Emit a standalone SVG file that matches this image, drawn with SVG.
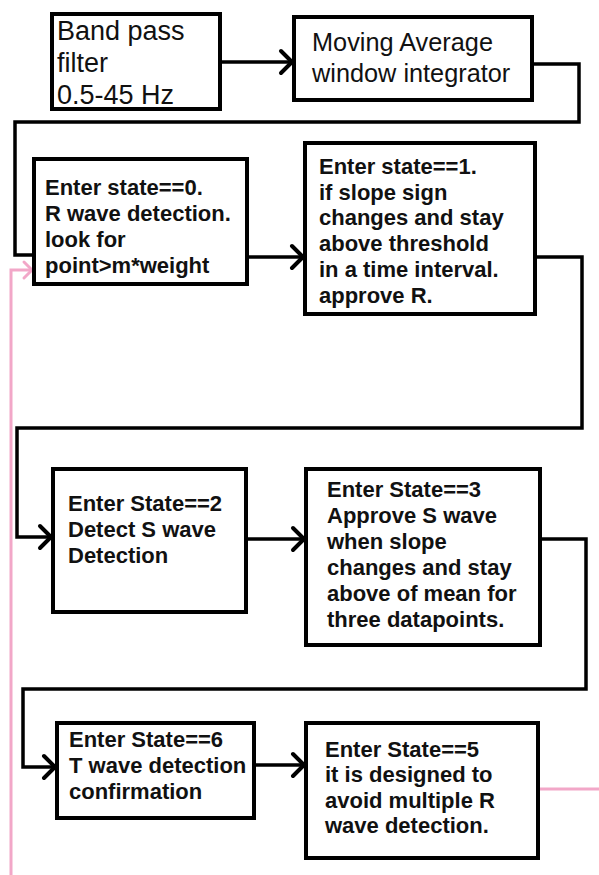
<svg xmlns="http://www.w3.org/2000/svg" width="599" height="875" viewBox="0 0 599 875">
  <style>
    .box { fill: #ffffff; stroke: #000000; stroke-width: 4; }
    .reg { font-family: "Liberation Sans", Arial, sans-serif; fill: #111111; }
    .bold { font-family: "Liberation Sans", Arial, sans-serif; font-weight: bold; font-size: 22px; fill: #111111; }
    .wire { fill: none; stroke: #000000; stroke-width: 3.5; stroke-linejoin: miter; }
    .pink { fill: none; stroke: #f2a7c8; stroke-width: 3; }
  </style>
  <defs>
    <marker id="ah" viewBox="0 0 16 24" markerWidth="16" markerHeight="24" refX="13" refY="12" orient="auto" markerUnits="userSpaceOnUse" overflow="visible">
      <path d="M2,1 L13,12 L2,23" fill="none" stroke="#000000" stroke-width="4" stroke-linecap="round" stroke-linejoin="round"/>
    </marker>
    <marker id="ahp" viewBox="0 0 12 20" markerWidth="12" markerHeight="20" refX="10" refY="10" orient="auto" markerUnits="userSpaceOnUse" overflow="visible">
      <path d="M2,2 L10,10 L2,18" fill="none" stroke="#f2a7c8" stroke-width="3" stroke-linecap="round" stroke-linejoin="round"/>
    </marker>
  </defs>
  <rect width="599" height="875" fill="#ffffff"/>

  <g id="connectors">
    <path class="wire" d="M220,62 H292" marker-end="url(#ah)"/>
    <path class="wire" d="M532,64 H579 V122 H15 V255 H34"/>
    <path class="wire" d="M247,257 H303" marker-end="url(#ah)"/>
    <path class="wire" d="M535,257 H582 V428 H17 V537 H51" marker-end="url(#ah)"/>
    <path class="wire" d="M246,539 H304" marker-end="url(#ah)"/>
    <path class="wire" d="M540,539 H586 V689 H23 V767 H55" marker-end="url(#ah)"/>
    <path class="wire" d="M254,765 H304" marker-end="url(#ah)"/>
    <path class="pink" d="M11,875 V270 H32" marker-end="url(#ahp)"/>
    <path class="pink" d="M538,789 H599"/>
  </g>

  <g id="node-bandpass">
    <rect class="box" x="52" y="14" width="168" height="95"/>
    <text class="reg" font-size="27" x="57"><tspan x="57" y="40">Band pass</tspan><tspan x="57" y="72">filter</tspan><tspan x="57" y="104">0.5-45 Hz</tspan></text>
  </g>

  <g id="node-moving-average">
    <rect class="box" x="294" y="17" width="238" height="83"/>
    <text class="reg" font-size="25.3" x="312"><tspan x="312" y="51">Moving Average</tspan><tspan x="312" y="82">window integrator</tspan></text>
  </g>

  <g id="node-state0">
    <rect class="box" x="34" y="159" width="213" height="125"/>
    <text class="bold"><tspan x="45" y="195">Enter state==0.</tspan><tspan x="45" y="221">R wave detection.</tspan><tspan x="45" y="247">look for</tspan><tspan x="45" y="273">point&gt;m*weight</tspan></text>
  </g>

  <g id="node-state1">
    <rect class="box" x="305" y="143" width="230" height="171"/>
    <text class="bold"><tspan x="319" y="174">Enter state==1.</tspan><tspan x="319" y="200">if slope sign</tspan><tspan x="319" y="225">changes and stay</tspan><tspan x="319" y="251">above threshold</tspan><tspan x="319" y="277">in a time interval.</tspan><tspan x="319" y="303">approve R.</tspan></text>
  </g>

  <g id="node-state2">
    <rect class="box" x="53" y="469" width="193" height="143"/>
    <text class="bold"><tspan x="68" y="511">Enter State==2</tspan><tspan x="68" y="537">Detect S wave</tspan><tspan x="68" y="563">Detection</tspan></text>
  </g>

  <g id="node-state3">
    <rect class="box" x="306" y="469" width="234" height="176"/>
    <text class="bold"><tspan x="327" y="497">Enter State==3</tspan><tspan x="327" y="523">Approve S wave</tspan><tspan x="327" y="549">when slope</tspan><tspan x="327" y="575">changes and stay</tspan><tspan x="327" y="601">above of mean for</tspan><tspan x="327" y="627">three datapoints.</tspan></text>
  </g>

  <g id="node-state6">
    <rect class="box" x="57" y="723" width="197" height="95"/>
    <text class="bold"><tspan x="69" y="747">Enter State==6</tspan><tspan x="69" y="773">T wave detection</tspan><tspan x="69" y="799">confirmation</tspan></text>
  </g>

  <g id="node-state5">
    <rect class="box" x="306" y="723" width="232" height="135"/>
    <text class="bold"><tspan x="325" y="757">Enter State==5</tspan><tspan x="325" y="782">it is designed to</tspan><tspan x="325" y="808">avoid multiple R</tspan><tspan x="325" y="833">wave detection.</tspan></text>
  </g>
</svg>
